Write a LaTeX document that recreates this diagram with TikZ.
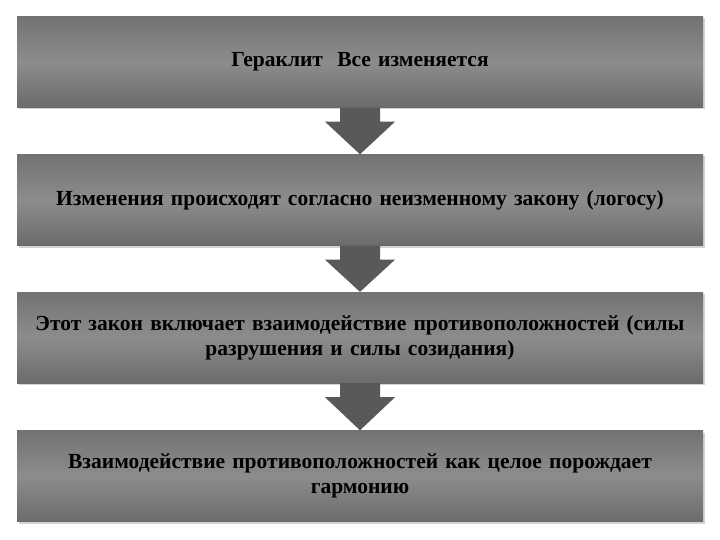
\documentclass[tikz,border=0pt]{standalone}
\usepackage{fontspec}
\setmainfont{Liberation Serif}
\usetikzlibrary{shadows}
\tikzset{
 boxst/.style={draw=none, minimum width=686pt, minimum height=91pt, inner xsep=8pt, top color=black!55, bottom color=black!58, middle color=black!45, drop shadow={shadow xshift=2pt,shadow yshift=-2pt,opacity=0.35}, align=center, font=\bfseries\fontsize{21.5}{25}\selectfont, text width=670pt},
 arr/.style={fill=black!65, draw=none}
}
\begin{document}
\begin{tikzpicture}[x=1pt,y=-1pt]
\useasboundingbox[fill=white] (0,0) rectangle (720,540);
\node[boxst] (b1) at (360,62) {Гераклит\ \ Все изменяется};
\node[boxst] (b2) at (360,200) {Изменения происходят согласно неизменному закону (логосу)};
\node[boxst] (b3) at (360,337.5) {Этот закон включает взаимодействие противоположностей (силы\\ разрушения и силы созидания)};
\node[boxst] (b4) at (360,476) {Взаимодействие противоположностей как целое порождает\\ гармонию};
\foreach \a/\b in {b1/b2,b2/b3,b3/b4}{
 \path (\a.south) coordinate (s) (\b.north) coordinate (t);
 \fill[arr] ([xshift=-20pt]s) -- ([xshift=20pt]s) -- ([xshift=20pt,yshift=-14pt]s) -- ([xshift=35pt,yshift=-14pt]s) -- (t) -- ([xshift=-35pt,yshift=-14pt]s) -- ([xshift=-20pt,yshift=-14pt]s) -- cycle;
}
\end{tikzpicture}
\end{document}
